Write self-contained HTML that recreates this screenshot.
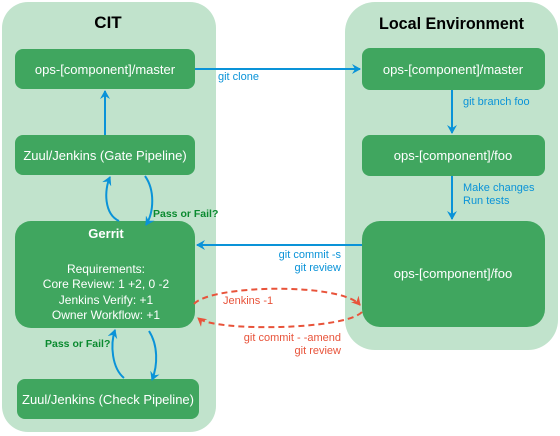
<!DOCTYPE html>
<html><head><meta charset="utf-8"><style>
html,body{margin:0;padding:0;background:#fff;}
svg{display:block;font-family:"Liberation Sans",sans-serif;}
</style></head><body>
<svg width="560" height="436" viewBox="0 0 560 436" xmlns="http://www.w3.org/2000/svg">
<defs>
<marker id="ab" markerWidth="10" markerHeight="10" refX="8" refY="5" orient="auto" markerUnits="userSpaceOnUse"><path d="M0,0 L9,5 L0,10 L3,5 Z" fill="#0a93d8"/></marker>
<marker id="ar" markerWidth="10" markerHeight="10" refX="8" refY="5" orient="auto" markerUnits="userSpaceOnUse"><path d="M0,0 L9,5 L0,10 L3,5 Z" fill="#e8533a"/></marker>
</defs>
<rect x="2" y="2" width="214" height="430" rx="26" fill="#c1e3cc"/>
<rect x="345" y="2" width="213" height="348" rx="30" fill="#c1e3cc"/>
<text x="108" y="28" font-size="17" font-weight="bold" text-anchor="middle" fill="#000">CIT</text>
<text x="379" y="29" font-size="17" font-weight="bold" fill="#000" textLength="145" lengthAdjust="spacingAndGlyphs">Local Environment</text>
<g fill="#40a65f">
<rect x="15" y="49" width="180" height="40" rx="8"/>
<rect x="15" y="135" width="180" height="40" rx="8"/>
<rect x="15" y="221" width="180" height="107" rx="16"/>
<rect x="17" y="379" width="182" height="40" rx="8"/>
<rect x="362" y="48" width="183" height="42" rx="8"/>
<rect x="362" y="135" width="183" height="41" rx="8"/>
<rect x="362" y="221" width="183" height="106" rx="18"/>
</g>
<g fill="#fff" font-size="13" text-anchor="middle">
<text x="105" y="74">ops-[component]/master</text>
<text x="105" y="160">Zuul/Jenkins (Gate Pipeline)</text>
<text x="106" y="238" font-weight="bold">Gerrit</text>
<g font-size="12">
<text x="106" y="273">Requirements:</text>
<text x="106" y="288">Core Review: 1 +2, 0 -2</text>
<text x="106" y="304">Jenkins Verify: +1</text>
<text x="106" y="319">Owner Workflow: +1</text>
</g>
<text x="108" y="404">Zuul/Jenkins (Check Pipeline)</text>
<text x="453" y="74">ops-[component]/master</text>
<text x="453" y="160">ops-[component]/foo</text>
<text x="453" y="278">ops-[component]/foo</text>
</g>
<g stroke="#0a93d8" stroke-width="2" fill="none">
<line x1="195" y1="69" x2="360" y2="69" marker-end="url(#ab)"/>
<line x1="452" y1="90" x2="452" y2="133" marker-end="url(#ab)"/>
<line x1="452" y1="176" x2="452" y2="219" marker-end="url(#ab)"/>
<line x1="362" y1="245" x2="197" y2="245" marker-end="url(#ab)"/>
<line x1="105" y1="135" x2="105" y2="91" marker-end="url(#ab)"/>
<path d="M119,221 C104,214 104,190 110,177" marker-end="url(#ab)"/>
<path d="M145,176 C155,190 154,212 146,225" marker-end="url(#ab)"/>
<path d="M124,378 C112,368 110,345 115,330" marker-end="url(#ab)"/>
<path d="M149,331 C158,345 158,365 152,380" marker-end="url(#ab)"/>
</g>
<g stroke="#e8533a" stroke-width="2" fill="none" stroke-dasharray="6,4">
<path d="M194,304 C210,285 340,282 360,305" marker-end="url(#ar)"/>
<path d="M362,312 C345,330 215,332 198,318" marker-end="url(#ar)"/>
</g>
<g fill="#0a93d8" font-size="11">
<text x="218" y="80">git clone</text>
<text x="463" y="105">git branch foo</text>
<text x="463" y="191">Make changes</text>
<text x="463" y="204">Run tests</text>
<text x="341" y="258" text-anchor="end">git commit -s</text>
<text x="341" y="271" text-anchor="end">git review</text>
</g>
<g fill="#e8533a" font-size="11">
<text x="223" y="304">Jenkins -1</text>
<text x="341" y="341" text-anchor="end">git commit  - -amend</text>
<text x="341" y="354" text-anchor="end">git review</text>
</g>
<g fill="#0a8a2f" font-size="10.5" font-weight="bold">
<text x="153" y="217">Pass or Fail?</text>
<text x="45" y="347">Pass or Fail?</text>
</g>
</svg>
</body></html>
